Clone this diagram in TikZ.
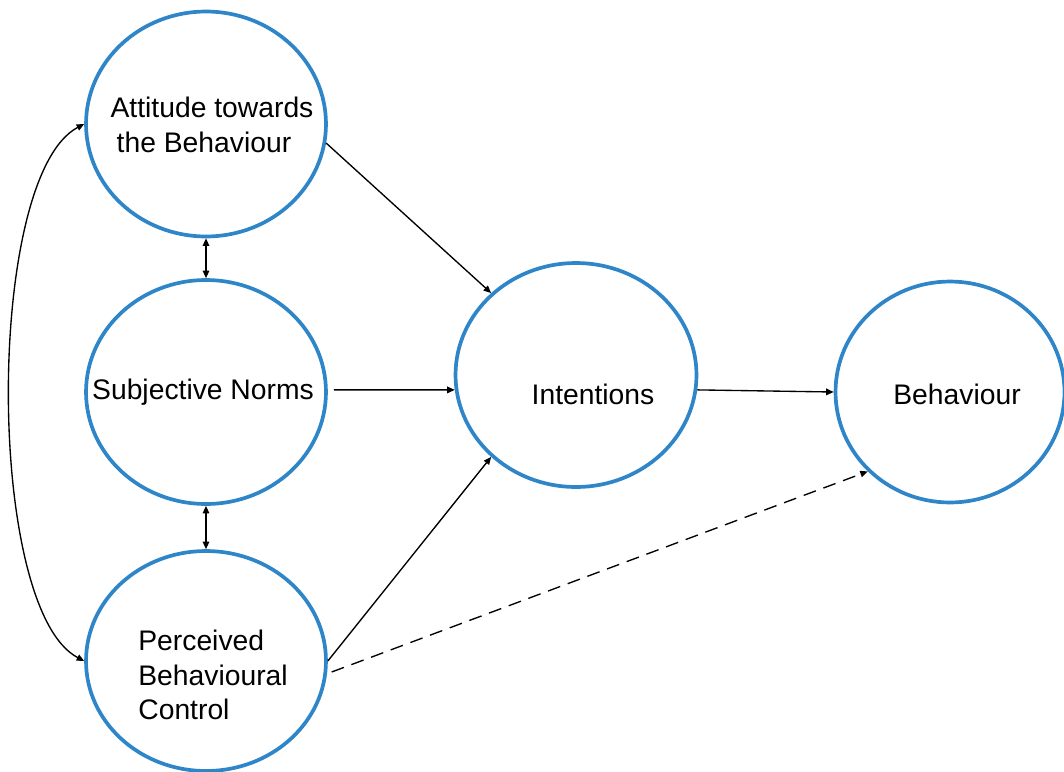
\documentclass[tikz,border=0pt]{standalone}
\usepackage{fontspec}
\setmainfont{Liberation Sans}
\usetikzlibrary{arrows.meta,shapes.geometric}
\definecolor{ringblue}{HTML}{2E86C8}
\begin{document}
\begin{tikzpicture}[x=0.02cm,y=-0.02cm,
  ring/.style={draw=ringblue, line width=0.074cm, ellipse, inner sep=0pt},
  lbl/.style={font=\fontsize{16.1pt}{19pt}\selectfont, inner sep=0pt, text=black},
  arr/.style={draw=black, line width=0.027cm, -{Triangle[length=0.15cm,width=0.13cm]}},
  dbl/.style={draw=black, line width=0.027cm, {Triangle[length=0.15cm,width=0.13cm]}-{Triangle[length=0.15cm,width=0.13cm]}},
  dashline/.style={dash pattern=on 0.26cm off 0.16cm}]
\useasboundingbox (0,0) rectangle (1064,771);

% ellipses
\node[ring, minimum width=4.8cm, minimum height=4.5cm] (att) at (206,124) {};
\node[ring, minimum width=4.8cm, minimum height=4.48cm] (sn) at (206,392) {};
\node[ring, minimum width=4.8cm, minimum height=4.4cm] (pbc) at (206,661) {};
\node[ring, minimum width=4.82cm, minimum height=4.48cm] (int) at (576,375) {};
\node[ring, minimum width=4.58cm, minimum height=4.42cm] (beh) at (950,392) {};

% labels
\node[lbl, anchor=base] (attA) at (212,117) {Attitude towards};
\node[lbl, anchor=base] (attB) at (204,152) {the Behaviour};
\node[lbl, anchor=base] (snT) at (203,399) {Subjective Norms};
\node[lbl, anchor=base west] (pbcA) at (138,650) {Perceived};
\node[lbl, anchor=base west] (pbcB) at (138,685) {Behavioural};
\node[lbl, anchor=base west] (pbcC) at (138,719) {Control};
\node[lbl, anchor=base] (intT) at (593,404) {Intentions};
\node[lbl, anchor=base] (behT) at (957,404) {Behaviour};

% connectors
\draw[arr] (att.-9) -- (int.136);
\draw[arr, shorten <=0.12cm] (sn.1) -- (int.187);
\draw[arr] (int.-7) -- (beh.180);
\draw[arr] (pbc.0) -- (int.224);
\draw[arr, dashline, shorten <=0.1cm] (pbc.-6) -- (beh.224);
\draw[dbl] (att.south) -- (sn.north);
\draw[dbl] (sn.south) -- (pbc.north);
\draw[dbl] (att.west) .. controls +(-99,52) and +(-99,-52) .. (pbc.west);
\end{tikzpicture}
\end{document}
